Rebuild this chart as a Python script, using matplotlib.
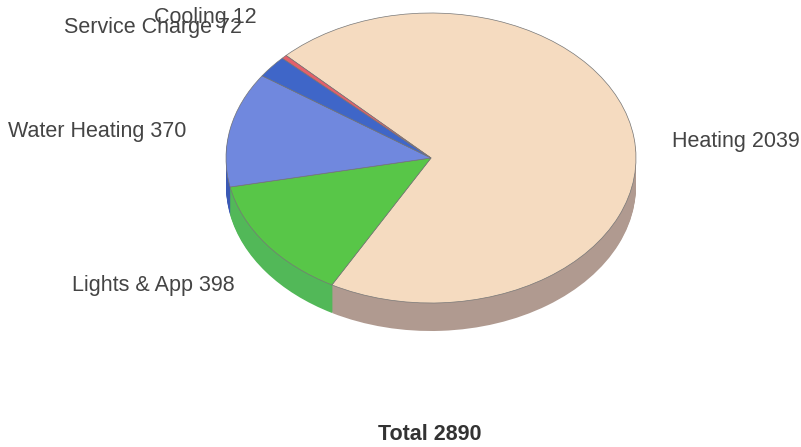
import matplotlib
matplotlib.use("Agg")
import matplotlib.pyplot as plt
import matplotlib.transforms as mtrans

W, H = 801, 447
categories = ["Heating", "Lights & App", "Water Heating", "Service Charge", "Cooling"]
values = [2039, 398, 370, 72, 12]
total = 2890
top_colors = ["#f5dbc0", "#58c648", "#7088de", "#3f66c8", "#e4606a"]
side_colors = ["#b09a90", "#52b858", "#3a58b4", "#2f4fa8", "#b04050"]
labels = [f"{c} {v}" for c, v in zip(categories, values)]

plt.rcParams["font.family"] = ["Liberation Sans", "DejaVu Sans"]
fig = plt.figure(figsize=(W / 100, H / 100), dpi=100, facecolor="white")
ax = fig.add_axes([0, 0, 1, 1])

cx, cy, rx, ry, depth = 431, 158, 205, 145, 28
scale_y = ry / rx

for d in range(depth, 0, -1):
    ax.pie(values, colors=side_colors, startangle=135, counterclock=False,
           radius=rx, center=(cx, H - cy - d),
           wedgeprops=dict(linewidth=0.3, edgecolor="none"))
ax.pie(values, colors=top_colors, startangle=135, counterclock=False,
       radius=rx, center=(cx, H - cy),
       wedgeprops=dict(linewidth=0.5, edgecolor="#777777"))
ax.set_aspect("auto")
ax.set_xlim(0, W)
ax.set_ylim(0, H)
ax.axis("off")

# pie wedges are circles in data space: squash them about their own centre
for p in ax.patches:
    c = p.center
    p.set_transform(mtrans.Affine2D().translate(-c[0], -c[1]).scale(1, scale_y).translate(c[0], c[1]) + ax.transData)

label_pos = [(672, 142), (72, 285), (8, 131), (64, 27), (154, 17)]
for s, (x, y) in zip(labels, label_pos):
    ax.text(x, H - y, s, fontsize=15.5, color="#444444", ha="left", va="center")
ax.text(430, H - 434, f"Total {total}", fontsize=15.5, fontweight="bold", color="#333333", ha="center", va="center")

fig.savefig("out.png", dpi=100)
